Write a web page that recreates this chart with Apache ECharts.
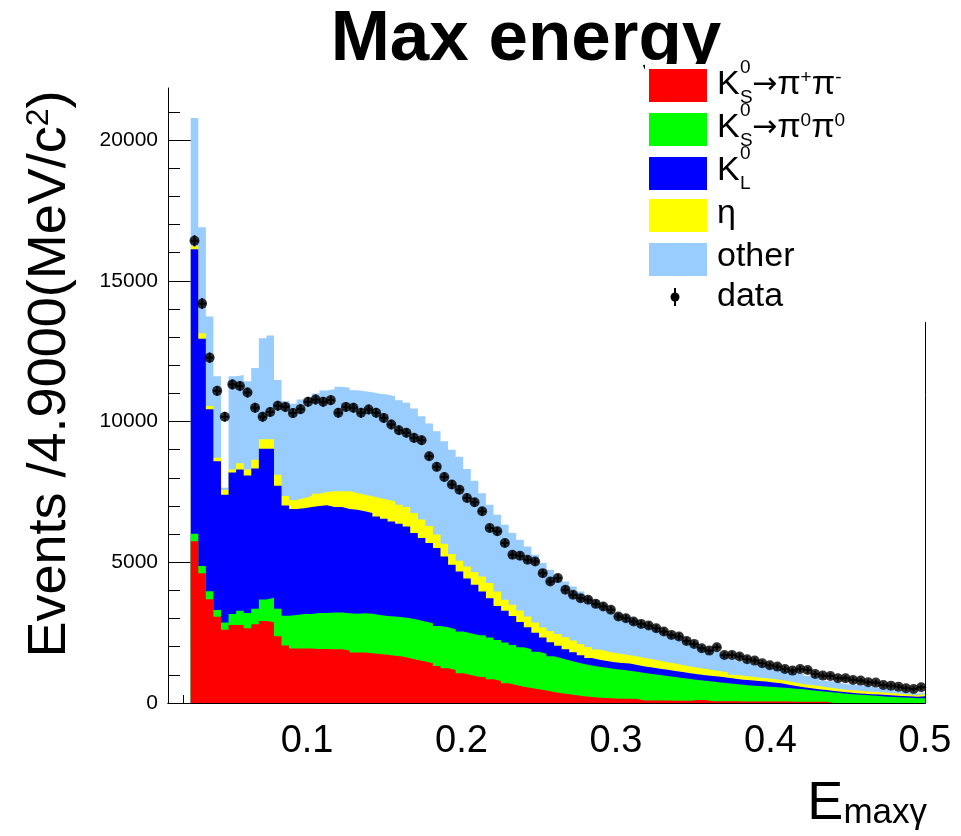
<!DOCTYPE html>
<html>
<head>
<meta charset="utf-8">
<script src="https://cdn.jsdelivr.net/npm/echarts@6/dist/echarts.min.js"></script>
<style>
  html, body { margin: 0; padding: 0; background: #fff; }
  #chart { width: 961px; height: 836px; }
</style>
</head>
<body>
<div id="chart"></div>
<script>
// histogram binning: 100 bins from 0.01 to 0.5, first filled bin is #3
const xMin = 0.01, xMax = 0.5, nBins = 100, firstBin = 3;
const binWidth = (xMax - xMin) / nBins;

// stacked heights as drawn (each one includes everything below it)
const topKsPiPi = [
  5750, 4610, 3690, 3060, 2600, 2770, 2770, 2660, 2800, 2910, 2870, 2370, 2040, 1940, 1940, 1940, 1920, 1920,
  1910, 1910, 1865, 1790, 1790, 1770, 1745, 1710, 1675, 1650, 1590, 1530, 1470, 1410, 1315, 1235, 1175, 1055, 995, 935,
  915, 840, 780, 700, 641, 580, 535, 485, 440, 390, 345, 310, 273, 237, 210, 190, 175, 160, 150,
  150, 140, 90, 90, 85, 85, 80, 80, 80, 110, 110, 60, 60, 60, 60, 55, 55, 55, 50, 50,
  50, 50, 45, 45, 45, 45, 40, 0, 0, 0, 0, 0, 0, 0, 0, 0, 0, 0, 0, 0
];
const topKsPi0Pi0 = [
  6010, 4870, 3970, 3300, 2860, 3160, 3280, 3200, 3350, 3680, 3740, 3350, 3100, 3130, 3160, 3160, 3200, 3200,
  3215, 3215, 3190, 3170, 3190, 3170, 3130, 3095, 3070, 3050, 3010, 2955, 2895, 2835, 2740, 2690, 2620, 2540, 2480, 2420,
  2400, 2325, 2240, 2150, 2065, 1980, 1910, 1820, 1750, 1660, 1590, 1520, 1450, 1390, 1330, 1290, 1250, 1210, 1180,
  1150, 1110, 1070, 1030, 995, 955, 920, 885, 850, 820, 790, 760, 730, 700, 675, 650, 625, 600, 585, 565,
  550, 530, 505, 485, 455, 425, 400, 370, 345, 320, 300, 280, 265, 245, 225, 210, 195, 185, 170, 165
];
const topKL = [
  16120, 12940, 10440, 8590, 7400, 8190, 8300, 8080, 8330, 9030, 9030, 7720, 7020, 6890, 6920, 6960, 7000, 7030,
  6965, 6965, 6895, 6870, 6810, 6750, 6630, 6545, 6450, 6370, 6275, 6040, 5860, 5685, 5505, 5205, 4910, 4675, 4420, 4200,
  3962, 3725, 3450, 3275, 3095, 2880, 2690, 2500, 2325, 2160, 2030, 1910, 1800, 1700, 1600, 1540, 1490, 1450, 1420,
  1400, 1350, 1300, 1260, 1220, 1180, 1140, 1100, 1060, 1020, 990, 960, 930, 900, 860, 830, 810, 780, 760, 730,
  700, 650, 600, 560, 520, 490, 460, 430, 400, 370, 350, 330, 315, 300, 285, 270, 250, 240, 225, 240
];
const topEta = [
  16240, 13140, 10550, 8710, 7580, 8300, 8520, 8300, 8640, 9370, 9370, 8110, 7350, 7210, 7280, 7350, 7430, 7500,
  7520, 7520, 7520, 7460, 7400, 7345, 7285, 7225, 7165, 7045, 6960, 6750, 6520, 6285, 5985, 5655, 5290, 5050, 4850, 4650,
  4497, 4259, 3962, 3666, 3488, 3290, 3073, 2860, 2680, 2560, 2455, 2335, 2220, 2100, 1990, 1900, 1840, 1780, 1740,
  1700, 1650, 1600, 1550, 1500, 1450, 1400, 1350, 1300, 1250, 1210, 1170, 1130, 1080, 1000, 970, 940, 910, 880, 850,
  820, 770, 720, 670, 640, 600, 560, 520, 490, 460, 440, 420, 400, 380, 365, 345, 320, 300, 275, 320
];
const topOther = [
  20780, 16900, 13730, 11610, 7650, 11610, 11650, 11430, 11900, 12960, 13060, 11480, 10730, 10630, 10780, 10850, 11000, 11100,
  11150, 11235, 11200, 11115, 11080, 11040, 10990, 10960, 10900, 10760, 10665, 10460, 10190, 9930, 9655, 9300, 9000, 8745, 8315, 7900,
  7450, 7047, 6691, 6335, 6040, 5801, 5564, 5267, 4971, 4733, 4497, 4318, 4140, 3962, 3784, 3666, 3488, 3369, 3191,
  3100, 2980, 2870, 2760, 2650, 2550, 2450, 2340, 2230, 2120, 2010, 1920, 1830, 1740, 1560, 1480, 1420, 1370, 1310, 1240,
  1180, 1110, 1080, 1040, 960, 900, 790, 760, 700, 660, 640, 620, 580, 540, 500, 480, 420, 370, 340, 370
];
const dataCounts = [
  16420, 14190, 12270, 11090, 10170, 11320, 11260, 11030, 10490, 10170, 10340, 10560, 10520, 10300, 10440, 10700, 10780, 10700,
  10760, 10310, 10520, 10490, 10310, 10430, 10310, 10130, 9895, 9690, 9600, 9420, 9335, 8765, 8390, 8030, 7760, 7580, 7285, 7130,
  6810, 6217, 6099, 5683, 5267, 5232, 5089, 5030, 4614, 4318, 4437, 4022, 3844, 3725, 3666, 3523, 3428, 3310, 3073,
  3013, 2895, 2811, 2752, 2657, 2539, 2420, 2361, 2207, 2100, 1945, 1862, 1982, 1708, 1708, 1650, 1554, 1506, 1412, 1340,
  1293, 1210, 1151, 1210, 1174, 1032, 973, 961, 878, 878, 819, 795, 735, 724, 641, 617, 581, 522, 498, 558
];

const xLabelTicks = [0.1, 0.2, 0.3, 0.4, 0.5];
const yLabelTicks = [0, 5000, 10000, 15000, 20000];
const yMinorTicks = [1000, 2000, 3000, 4000, 6000, 7000, 8000, 9000, 11000, 12000, 13000, 14000,
                     16000, 17000, 18000, 19000, 21000];
const yMax = 21850;

const FONT = 'Liberation Sans';

// step outline: value of bin i held from its low edge to its high edge
function stepData(vals) {
  const pts = vals.map((v, i) => [xMin + (firstBin + i) * binWidth, v]);
  pts.push([xMax, vals[vals.length - 1]]);
  return pts;
}

function histSeries(name, vals, color) {
  return {
    name: name,
    type: 'line',
    step: 'end',
    data: stepData(vals),
    symbol: 'none',
    lineStyle: { width: 0 },
    areaStyle: { color: color, opacity: 1 },
    itemStyle: { color: color },
    silent: true
  };
}

const dataPts = dataCounts.map((v, i) => [xMin + (firstBin + i + 0.5) * binWidth, v]);

const chart = echarts.init(document.getElementById('chart'));

// legend drawn by hand (ROOT style, with stacked super/subscripts)
const LS = 34;
function txt(x, y, str, size) {
  return {
    type: 'text', z: 101,
    style: { x: x, y: y, text: str, fontSize: size, fontFamily: FONT, fill: '#000',
             align: 'left', verticalAlign: 'middle' }
  };
}
function kaon(y, sub) {
  return [txt(717, y, 'K', LS), txt(740, y - 17, '0', 19), txt(740, y + 13, sub, 19)];
}
const richPi = {
  ar: { fontSize: 30, fontFamily: 'DejaVu Sans' },
  a: { fontSize: LS, fontFamily: FONT },
  s: { fontSize: 19, fontFamily: FONT, verticalAlign: 'top' }
};
function box(y, color) {
  return { type: 'rect', z: 101, shape: { x: 649, y: y, width: 58, height: 33 }, style: { fill: color } };
}
function piText(y, str) {
  return { type: 'text', z: 101,
           style: { x: 752, y: y, text: str, rich: richPi, fontFamily: FONT, fill: '#000', verticalAlign: 'middle' } };
}

const legendEls = [
  { type: 'rect', z: 100, shape: { x: 645, y: 64, width: 300, height: 258 }, style: { fill: '#fff' } },
  box(69, '#ff0000'), box(113, '#00ff00'), box(157, '#0000ff'), box(199, '#ffff00'), box(243, '#99ccff'),
  ...kaon(85, 'S'), piText(85, '{ar|→}{a|π}{s|+}{a|π}{s|-}'),
  ...kaon(128, 'S'), piText(128, '{ar|→}{a|π}{s|0}{a|π}{s|0}'),
  ...kaon(171, 'L'),
  txt(717, 214, 'η', LS),
  txt(717, 257, 'other', LS),
  txt(717, 297, 'data', LS),
  { type: 'line', z: 101, shape: { x1: 675, y1: 288, x2: 675, y2: 306 }, style: { stroke: '#000', lineWidth: 2 } },
  { type: 'circle', z: 101, shape: { cx: 675, cy: 297, r: 4.5 }, style: { fill: '#000' } }
];

const option = {
  animation: false,
  backgroundColor: '#fff',
  grid: { left: 168, right: 36, top: 88, bottom: 133 },
  xAxis: [
    {
      type: 'value', min: xMin, max: xMax, position: 'bottom',
      axisLine: { show: true, lineStyle: { color: '#000', width: 1 } },
      axisTick: { show: true, inside: true, length: 8, customValues: [0.02], lineStyle: { color: '#000' } },
      axisLabel: {
        customValues: xLabelTicks, formatter: v => v.toFixed(1),
        fontSize: 38, fontFamily: FONT, color: '#000', margin: 20
      },
      splitLine: { show: false }
    },
    {
      type: 'value', min: xMin, max: xMax, position: 'top',
      axisLine: { show: true, lineStyle: { color: '#000', width: 1 } },
      axisTick: { show: false }, axisLabel: { show: false }, splitLine: { show: false }
    }
  ],
  yAxis: [
    {
      type: 'value', min: 0, max: yMax, position: 'left',
      axisLine: { show: true, lineStyle: { color: '#000', width: 1 } },
      axisTick: { show: true, inside: true, length: 25, customValues: yLabelTicks, lineStyle: { color: '#000' } },
      axisLabel: { customValues: yLabelTicks, formatter: v => String(v),
                   fontSize: 21, fontFamily: FONT, color: '#000', margin: 10 },
      splitLine: { show: false }
    },
    {
      type: 'value', min: 0, max: yMax, position: 'left',
      axisLine: { show: false },
      axisTick: { show: true, inside: true, length: 12, customValues: yMinorTicks, lineStyle: { color: '#000' } },
      axisLabel: { show: false }, splitLine: { show: false }
    },
    {
      type: 'value', min: 0, max: yMax, position: 'right',
      axisLine: { show: true, lineStyle: { color: '#000', width: 1 } },
      axisTick: { show: false }, axisLabel: { show: false }, splitLine: { show: false }
    }
  ],
  series: [
    histSeries('other', topOther, '#99ccff'),
    histSeries('eta', topEta, '#ffff00'),
    histSeries('KL', topKL, '#0000ff'),
    histSeries('KS00', topKsPi0Pi0, '#00ff00'),
    histSeries('KSpm', topKsPiPi, '#ff0000'),
    {
      name: 'data errors',
      type: 'custom',
      silent: true,
      data: dataPts,
      renderItem: function (params, api) {
        const x = api.value(0), y = api.value(1), e = Math.sqrt(y);
        const l = api.coord([x - binWidth / 2, y]);
        const r = api.coord([x + binWidth / 2, y]);
        const t = api.coord([x, y + e]);
        const b = api.coord([x, y - e]);
        return {
          type: 'group',
          children: [
            { type: 'line', shape: { x1: l[0], y1: l[1], x2: r[0], y2: r[1] }, style: { stroke: '#000', lineWidth: 2 } },
            { type: 'line', shape: { x1: t[0], y1: t[1] - 2, x2: b[0], y2: b[1] + 2 }, style: { stroke: '#000', lineWidth: 2 } }
          ]
        };
      },
      z: 5
    },
    {
      name: 'data',
      type: 'scatter',
      data: dataPts,
      symbol: 'circle',
      symbolSize: 10,
      itemStyle: { color: '#000' },
      silent: true,
      z: 6
    }
  ],
  graphic: {
    elements: [
      {
        type: 'text', z: 50,
        style: { x: 526, y: 40, text: 'Max energy', fontSize: 71, fontWeight: 'bold', fontFamily: FONT,
                 fill: '#000', align: 'center', verticalAlign: 'middle' }
      },
      {
        type: 'text', z: 50, x: 50, y: 374, rotation: Math.PI / 2,
        style: { x: 0, y: 0, text: 'Events /4.9000(MeV/c{s|2})', fontSize: 54, fontFamily: FONT, fill: '#000',
                 align: 'center', verticalAlign: 'middle',
                 rich: { s: { fontSize: 32, fontFamily: FONT, verticalAlign: 'top' } } }
      },
      {
        type: 'text', z: 50,
        style: { x: 927, y: 804, text: '{e|E}{s|maxγ}', fill: '#000', align: 'right', verticalAlign: 'middle',
                 rich: { e: { fontSize: 54, fontFamily: FONT }, s: { fontSize: 35, fontFamily: FONT, verticalAlign: 'bottom' } } }
      },
      ...legendEls
    ]
  }
};

chart.setOption(option);
</script>
</body>
</html>
